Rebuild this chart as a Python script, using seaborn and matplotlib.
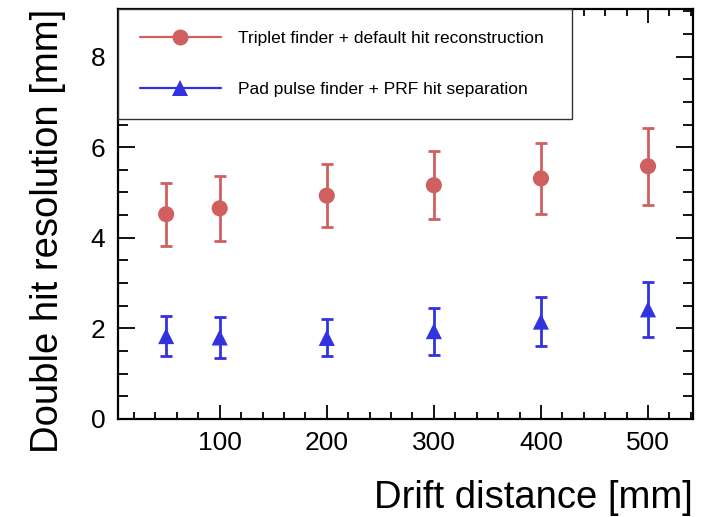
import matplotlib
matplotlib.use("Agg")
import matplotlib.pyplot as plt
from matplotlib.lines import Line2D
from matplotlib.ticker import MultipleLocator
import seaborn as sns
import pandas as pd

# drift distance [mm]
drift = [50, 100, 200, 300, 400, 500]

# triplet finder + default hit reconstruction
triplet_res = [4.52, 4.65, 4.93, 5.16, 5.31, 5.58]
triplet_err = [0.70, 0.72, 0.69, 0.75, 0.79, 0.85]

# pad pulse finder + PRF hit separation
pad_res = [1.83, 1.80, 1.79, 1.94, 2.15, 2.42]
pad_err = [0.45, 0.45, 0.41, 0.52, 0.54, 0.60]

lab_triplet = "Triplet finder + default hit reconstruction"
lab_pad = "Pad pulse finder + PRF hit separation"

red = "#d06060"
blue = "#3232e0"

df = pd.concat([
    pd.DataFrame({"drift": drift, "res": triplet_res, "err": triplet_err, "method": lab_triplet}),
    pd.DataFrame({"drift": drift, "res": pad_res, "err": pad_err, "method": lab_pad}),
])

sns.set_theme(style="ticks")
plt.rcParams["font.family"] = ["Liberation Sans", "DejaVu Sans"]

fig = plt.figure(figsize=(7.12, 5.17), dpi=100)
ax = fig.add_axes([0.1657, 0.1896, 0.8076, 0.793])

for (name, grp), col in zip(df.groupby("method", sort=False), [red, blue]):
    ax.errorbar(grp["drift"], grp["res"], yerr=grp["err"], fmt="none",
                ecolor=col, elinewidth=2.0, capsize=4.5, capthick=2.0, zorder=2)

sns.scatterplot(data=df, x="drift", y="res", hue="method", style="method",
                markers={lab_triplet: "o", lab_pad: "^"},
                palette={lab_triplet: red, lab_pad: blue},
                s=135, edgecolor="none", linewidth=0, legend=False, ax=ax, zorder=3)

ax.set_xlim(5, 542)
ax.set_ylim(0, 9.05)
ax.xaxis.set_major_locator(MultipleLocator(100))
ax.xaxis.set_minor_locator(MultipleLocator(20))
ax.yaxis.set_major_locator(MultipleLocator(2))
ax.yaxis.set_minor_locator(MultipleLocator(0.5))
ax.tick_params(which="both", direction="in", top=True, right=True, width=1.3, colors="black")
ax.tick_params(axis="x", which="major", length=10, pad=9, labelsize=19)
ax.tick_params(axis="x", which="minor", length=5)
ax.tick_params(axis="y", which="major", length=12, pad=9, labelsize=19)
ax.tick_params(axis="y", which="minor", length=7)
for sp in ax.spines.values():
    sp.set_linewidth(1.6)
    sp.set_color("black")

ax.set_xlabel("Drift distance [mm]", fontsize=27.5, loc="right", color="black")
ax.set_ylabel("Double hit resolution [mm]", fontsize=27.5, loc="top", color="black")
ax.xaxis.set_label_coords(1.0, -0.15)
ax.yaxis.set_label_coords(-0.09, 1.0)

handles = [
    Line2D([], [], color=red, lw=1.6, marker="o", markersize=11.5, markeredgewidth=0),
    Line2D([], [], color=blue, lw=1.6, marker="^", markersize=12, markeredgewidth=0),
]
leg = ax.legend(handles, [lab_triplet, lab_pad], loc="upper left",
                bbox_to_anchor=(0, 0.741, 0.79, 0.259), mode="expand",
                borderaxespad=0, fontsize=12.5, handlelength=4.67, handletextpad=0.98,
                labelspacing=2.1, borderpad=1.25, fancybox=False, framealpha=1)
leg.get_frame().set_edgecolor("#333333")
leg.get_frame().set_linewidth(1.0)
for t in leg.get_texts():
    t.set_color("black")

fig.savefig("out.png", dpi=100)
